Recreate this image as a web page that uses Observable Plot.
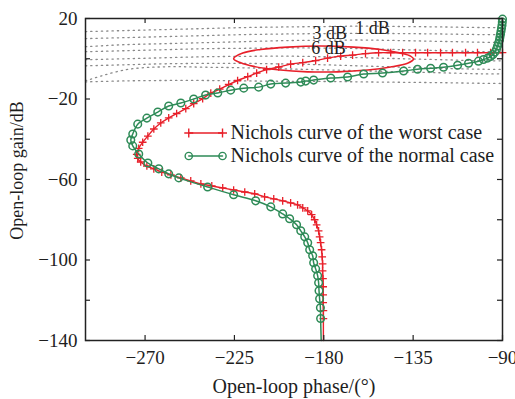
<!DOCTYPE html>
<html><head><meta charset="utf-8">
<script src="https://cdn.jsdelivr.net/npm/d3@7"></script>
<script src="https://cdn.jsdelivr.net/npm/@observablehq/plot@0.6"></script>
<style>
html,body{margin:0;padding:0;background:#fff;}
#chart{width:515px;height:399px;}
</style></head><body><div id="chart"></div>
<script>
// ---- data ----
const worstPhase = [-90.0,-96.0,-102.6,-108.6,-115.2,-121.2,-127.7,-133.8,-140.3,-146.3,-152.4,-159.0,-165.5,-171.5,-178.1,-184.1,-190.6,-196.7,-202.7,-208.8,-213.8,-218.3,-223.4,-227.9,-232.4,-236.9,-241.0,-245.5,-249.5,-254.1,-258.1,-262.1,-265.6,-268.6,-271.2,-273.2,-274.2,-273.7,-272.2,-269.1,-265.6,-261.6,-257.0,-252.0,-247.0,-241.9,-236.4,-230.9,-225.4,-219.8,-214.8,-209.8,-205.2,-200.7,-196.7,-193.2,-190.6,-188.1,-186.1,-184.6,-183.6,-182.6,-182.1,-181.6,-181.1,-180.8,-180.6,-180.6,-180.4,-180.3,-180.3,-180.3,-180.2,-180.2,-180.2];
const worstGain  = [3.0,3.0,3.0,3.0,3.0,3.0,3.0,3.0,3.0,3.0,3.0,2.55,1.8,1.3,0.3,-0.9,-1.9,-2.7,-4.1,-5.4,-7.1,-8.9,-10.8,-12.8,-15.1,-17.1,-19.8,-22.3,-24.8,-27.2,-29.4,-31.9,-34.9,-38.4,-41.5,-44.5,-47.5,-49.5,-51.3,-53.3,-54.7,-56.3,-57.7,-59.2,-60.7,-62.2,-63.2,-64.2,-65.2,-66.2,-67.1,-68.6,-69.6,-70.6,-71.6,-72.6,-74.1,-75.6,-77.5,-80.0,-82.5,-85.5,-88.5,-91.4,-94.9,-98.4,-101.9,-105.4,-109.3,-113.3,-117.3,-121.2,-125.2,-129.1,-140];

const normalPhase = [-90.0,-90.1,-90.25,-90.5,-90.75,-91.0,-91.3,-91.5,-92.0,-92.5,-93.0,-93.8,-94.8,-96.0,-97.5,-99.6,-102.1,-107.1,-112.6,-119.7,-126.2,-132.8,-139.8,-150.4,-159.9,-168.0,-176.5,-185.1,-189.1,-191.6,-199.2,-206.7,-212.8,-220.3,-226.9,-233.4,-239.5,-245.5,-252.0,-258.1,-263.6,-269.1,-273.7,-276.2,-277.2,-276.2,-273.2,-268.6,-263.1,-258.1,-253.0,-238.5,-225.4,-214.3,-206.7,-200.7,-197.2,-193.7,-191.6,-189.6,-188.1,-187.1,-185.6,-185.1,-184.1,-183.1,-182.6,-182.4,-182.1,-181.7,-181.6,-181.3];
const normalGain  = [19.7,18.2,16.7,15.2,13.7,12.2,10.7,9.3,7.8,6.3,4.8,3.3,2.1,1.1,0.3,-0.4,-1.2,-2.2,-3.2,-4.2,-4.7,-5.2,-6.1,-7.1,-7.6,-9.1,-9.6,-10.6,-11.1,-11.6,-12.1,-12.6,-14.1,-14.6,-15.6,-17.0,-18.0,-20.0,-22.0,-23.5,-26.5,-29.5,-32.5,-37.4,-40.4,-43.3,-47.3,-51.8,-54.7,-57.2,-59.2,-63.7,-67.6,-70.6,-73.6,-77.1,-79.5,-82.5,-85.5,-88.5,-91.4,-94.9,-97.9,-101.4,-104.4,-107.8,-111.3,-115.3,-119.3,-123.7,-129.1,-140];

const boundPhase = [-225.4,-220.8,-211.8,-198.2,-181.6,-165.0,-151.4,-141.3,-136.3,-134.8,-137.8,-146.4,-157.9,-173.0,-188.1,-203.2,-215.3,-221.8];
const boundGain  = [0.0,2.8,4.6,5.8,6.3,5.8,4.6,2.8,1.3,-0.2,-2.2,-4.1,-5.6,-6.5,-6.5,-5.5,-3.8,-2.0];

const gridPhase = [-300,-280,-260,-240,-220,-200,-180,-160,-140,-120,-100,-90];
const gridGains = [
  [13.5,14.0,14.5,15.0,15.5,15.8,16.0,16.2,16.0,15.8,15.5,15.5],
  [10.0,10.5,11.0,11.5,12.0,12.3,12.5,12.6,12.5,12.3,12.0,12.0],
  [6.0,7.0,7.5,8.0,8.5,9.0,9.2,9.3,9.0,8.6,8.2,8.0],
  [3.5,4.0,4.5,5.0,5.2,5.4,5.3,5.0,4.5,4.0,3.5,3.5],
  [-0.5,0.0,0.5,1.0,1.2,1.3,1.0,0.5,0.0,-0.5,-1.0,-1.0],
  [-3.5,-3.0,-2.5,-2.3,-2.3,-2.6,-3.0,-3.6,-4.2,-4.8,-5.2,-5.3],
  [-11.0,-5.5,-4.0,-4.2,-4.5,-5.0,-5.5,-6.0,-6.5,-7.0,-7.5,-7.5],
  [-11.5,-11.0,-10.8,-10.8,-11.0,-11.2,-11.3,-11.5,-11.7,-11.9,-12.2,-12.3]
];

const contourLabels = ["3 dB","1 dB","6 dB"];
const contourLabelPhase = [-177.0,-155.5,-177.6];
const contourLabelGain = [12.7,15.0,5.2];

const legendLabels = ["Nichols curve of the worst case","Nichols curve of the normal case"];
const xTicks = [-270,-225,-180,-135,-90];
const yTicks = [20,0,-20,-40,-60,-80,-100,-120,-140];
const yLabels = [20,-20,-60,-100,-140];
const xTitle = "Open-loop phase/(°)";
const yTitle = "Open-loop gain/dB";

// ---- build tables ----
const RED = "#e8202a", GREEN = "#2e8b57";
const PLUS_R = 2.6, CIRC_R = 3.8;
const worst = worstPhase.map((p,i)=>({x:p,y:worstGain[i]}));
const normal = normalPhase.map((p,i)=>({x:p,y:normalGain[i]}));
const bound = boundPhase.map((p,i)=>({x:p,y:boundGain[i]}));
const grid = gridGains.flatMap((row,k)=>row.map((g,i)=>({x:gridPhase[i],y:g,k})));
const clabels = contourLabels.map((t,i)=>({t,x:contourLabelPhase[i],y:contourLabelGain[i]}));
const legY = [-36.9,-48.3];
const leg = legendLabels.map((t,i)=>({t,y:legY[i],c:i?GREEN:RED}));
const legLine = leg.flatMap(d=>[{x:-248,y:d.y,c:d.c,t:d.t},{x:-231,y:d.y,c:d.c,t:d.t}]);

const FONT = "'Liberation Serif','Times New Roman',serif";
const chart = Plot.plot({
  width:515, height:399,
  marginLeft:85, marginRight:13, marginTop:18, marginBottom:59,
  x:{domain:[-300,-90]},
  y:{domain:[-140,20]},
  style:{fontFamily:FONT, fontSize:"19px", background:"#fff", color:"#1e1e1e", overflow:"visible"},
  marks:[
    Plot.line(grid,{x:"x",y:"y",z:"k",stroke:"#8a8a8a",strokeWidth:1.3,strokeDasharray:"1.3,4",curve:"catmull-rom"}),
    Plot.line(bound,{x:"x",y:"y",stroke:RED,strokeWidth:1.6,curve:"catmull-rom-closed"}),
    Plot.line(worst,{x:"x",y:"y",stroke:RED,strokeWidth:1.4,curve:"catmull-rom"}),
    Plot.dot(worst.slice(0,-1),{x:"x",y:"y",symbol:"plus",r:PLUS_R,stroke:RED,strokeWidth:1.3}),
    Plot.line(normal,{x:"x",y:"y",stroke:GREEN,strokeWidth:1.5,curve:"catmull-rom"}),
    Plot.dot(normal.slice(0,-1),{x:"x",y:"y",symbol:"circle",r:CIRC_R,stroke:GREEN,fill:"none",strokeWidth:1.5}),
    Plot.text(clabels,{x:"x",y:"y",text:"t",fontSize:18,fill:"#1e1e1e",textAnchor:"middle",lineAnchor:"middle"}),
    Plot.line(legLine,{x:"x",y:"y",z:"t",stroke:"c",strokeWidth:1.5}),
    Plot.dot(legLine,{x:"x",y:"y",symbol:d=>d.c===RED?"plus":"circle",r:d=>d.c===RED?PLUS_R:CIRC_R,stroke:"c",fill:"none",strokeWidth:1.4}),
    Plot.text(leg,{x:-227,y:"y",text:"t",fontSize:20,textAnchor:"start",lineAnchor:"middle",fill:"#1e1e1e"}),
    // inward ticks on all four sides
    Plot.tickX(xTicks,{x:d=>d,insetTop:317,stroke:"#222",strokeWidth:1.2}),
    Plot.tickX(xTicks,{x:d=>d,insetBottom:317,stroke:"#222",strokeWidth:1.2}),
    Plot.tickY(yTicks,{y:d=>d,insetRight:412,stroke:"#222",strokeWidth:1.2}),
    Plot.tickY(yTicks,{y:d=>d,insetLeft:412,stroke:"#222",strokeWidth:1.2}),
    Plot.frame({stroke:"#222",strokeWidth:1.5}),
    Plot.axisX({ticks:xTicks,tickSize:0,tickPadding:10,label:null,fontSize:19,fill:"#1e1e1e"}),
    Plot.axisY({ticks:yLabels,tickSize:0,tickPadding:8,label:null,fontSize:19,fill:"#1e1e1e"}),
    Plot.text([xTitle],{frameAnchor:"bottom",dy:46,fontSize:20,lineAnchor:"middle",fill:"#1e1e1e"}),
    Plot.text([yTitle],{frameAnchor:"left",dx:-68,dy:-9,rotate:-90,fontSize:18,textAnchor:"middle",lineAnchor:"middle",fill:"#1e1e1e"})
  ]
});
document.getElementById("chart").append(chart);
</script>
</body></html>
